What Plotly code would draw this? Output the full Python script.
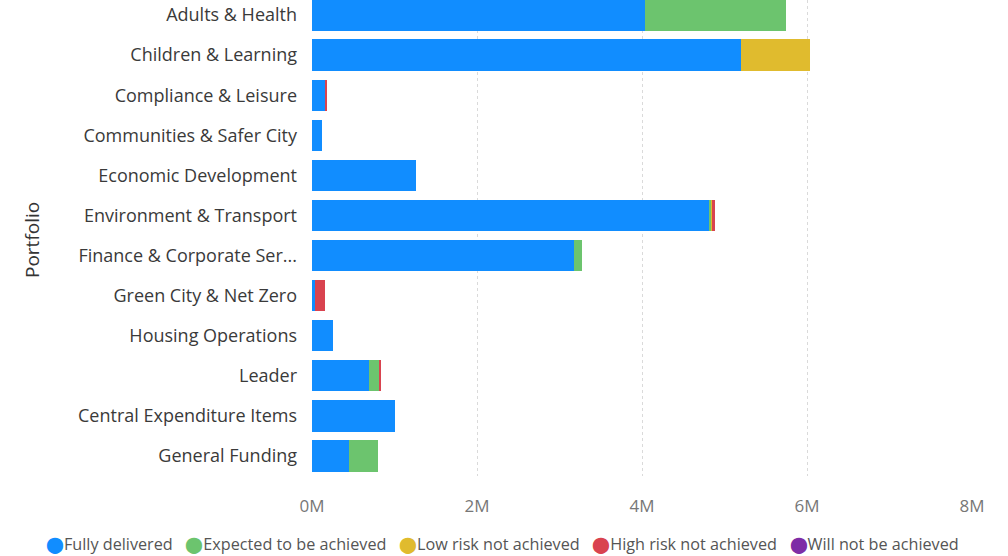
import plotly.graph_objects as go

# Savings by portfolio and delivery status (values in millions)
portfolios = [
    "Adults & Health", "Children & Learning", "Compliance & Leisure",
    "Communities & Safer City", "Economic Development", "Environment & Transport",
    "Finance & Corporate Ser...", "Green City & Net Zero", "Housing Operations",
    "Leader", "Central Expenditure Items", "General Funding",
]
fully_delivered = [4.04, 5.20, 0.16, 0.12, 1.26, 4.81, 3.18, 0.04, 0.25, 0.69, 1.00, 0.45]
expected_achieved = [1.71, 0, 0, 0, 0, 0.03, 0.09, 0, 0, 0.13, 0, 0.35]
low_risk = [0, 0.84, 0, 0, 0, 0.01, 0, 0, 0, 0, 0, 0]
high_risk = [0, 0, 0.02, 0, 0, 0.03, 0, 0.12, 0, 0.01, 0, 0]
will_not = [0, 0, 0, 0, 0, 0, 0, 0, 0, 0, 0, 0]

status_names = ["Fully delivered", "Expected to be achieved", "Low risk not achieved",
                "High risk not achieved", "Will not be achieved"]
status_values = [fully_delivered, expected_achieved, low_risk, high_risk, will_not]
status_colors = ["#118DFF", "#6CC46E", "#E0BB2E", "#D9434F", "#7E2DA6"]

x_ticks = [0, 2e6, 4e6, 6e6, 8e6]
x_tick_labels = ["0M", "2M", "4M", "6M", "8M"]

font_family = "Open Sans, Noto Sans, sans-serif"

fig = go.Figure()
for name, vals, color in zip(status_names, status_values, status_colors):
    fig.add_trace(go.Bar(
        y=portfolios, x=[v * 1e6 for v in vals], name=name, orientation="h",
        marker=dict(color=color, line=dict(width=0)), showlegend=False,
    ))

fig.update_layout(
    barmode="stack",
    bargap=0.22,
    width=1008, height=556,
    margin=dict(l=312, r=36, t=0, b=80),
    plot_bgcolor="white", paper_bgcolor="white",
    font=dict(family=font_family, color="#555"),
    showlegend=False,
)
fig.update_xaxes(
    range=[0, 8e6], tickvals=x_ticks, ticktext=x_tick_labels,
    showgrid=True, gridcolor="#dadada", griddash="dot", gridwidth=1,
    zeroline=False, showline=False, ticks="",
    tickfont=dict(size=17, color="#777"), ticklabelstandoff=18,
)
fig.update_yaxes(
    categoryorder="array", categoryarray=portfolios,
    range=[11.5, -0.375], showgrid=False, zeroline=False, ticks="",
    tickfont=dict(size=18, color="#3a3a3a"), ticklabelstandoff=14,
)
fig.add_annotation(
    text="Portfolio", textangle=-90, xref="paper", yref="paper",
    x=(32 - 312) / 660, y=(476 - 240) / 476, xanchor="center", yanchor="middle",
    showarrow=False, font=dict(size=19, color="#333"),
)

# legend row: coloured dot followed by the status name
legend_html = "\u00a0\u00a0\u00a0".join(
    f"<span style='color:{c}'>⬤</span>{n}"
    for n, c in zip(status_names, status_colors)
)
fig.add_annotation(
    text=legend_html, xref="paper", yref="paper",
    x=(44 - 312) / 660, y=-(544 - 476) / 476, xanchor="left", yanchor="middle",
    showarrow=False, font=dict(size=16.2, color="#555"),
)

fig.write_html("out.html")
